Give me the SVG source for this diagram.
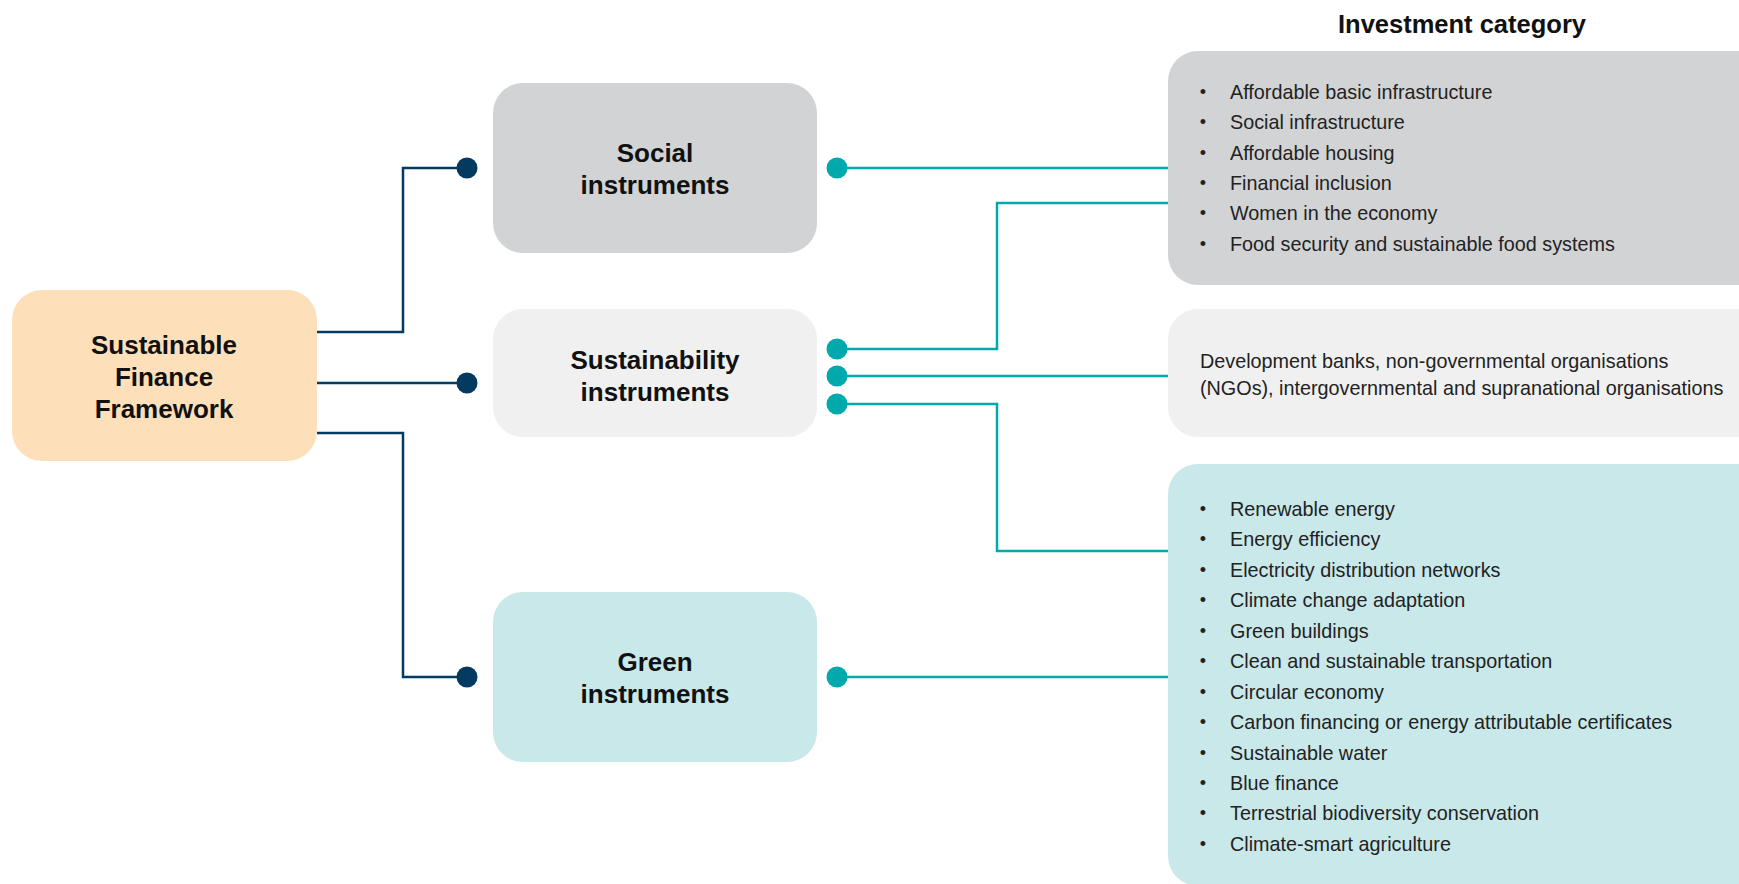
<svg xmlns="http://www.w3.org/2000/svg" width="1739" height="884" viewBox="0 0 1739 884">
<style>
.title{font-family:"Liberation Sans",Arial,sans-serif;font-weight:bold;font-size:26px;fill:#111;text-anchor:middle}
.head{font-family:"Liberation Sans",Arial,sans-serif;font-weight:bold;font-size:25.5px;fill:#111;text-anchor:middle}
.body{font-family:"Liberation Sans",Arial,sans-serif;font-size:19.8px;fill:#222}
.bul{font-family:"Liberation Sans",Arial,sans-serif;font-size:18px;fill:#222;text-anchor:middle}
.navy{fill:none;stroke:#033A5F;stroke-width:2.5}
.teal{fill:none;stroke:#00A9AC;stroke-width:2.5}
.dn{fill:#033A5F}
.dt{fill:#00A9AC}
</style>
<rect width="1739" height="884" fill="#ffffff"/>
<g id="connectors">
<path class="navy" d="M317 332 H403 V168 H467"/>
<path class="navy" d="M317 383 H467"/>
<path class="navy" d="M317 433 H403 V677 H467"/>
<circle class="dn" cx="467" cy="168" r="10.5"/>
<circle class="dn" cx="467" cy="383" r="10.5"/>
<circle class="dn" cx="467" cy="677" r="10.5"/>
<path class="teal" d="M837 168 H1168"/>
<path class="teal" d="M837 349 H997 V203 H1168"/>
<path class="teal" d="M837 376 H1168"/>
<path class="teal" d="M837 404 H997 V551 H1168"/>
<path class="teal" d="M837 677 H1168"/>
<circle class="dt" cx="837" cy="168" r="10.5"/>
<circle class="dt" cx="837" cy="349" r="10.5"/>
<circle class="dt" cx="837" cy="376" r="10.5"/>
<circle class="dt" cx="837" cy="404" r="10.5"/>
<circle class="dt" cx="837" cy="677" r="10.5"/>
</g>
<g id="framework">
<rect x="12" y="290" width="305" height="171" rx="30" fill="#FDDFB9"/>
<text class="title" x="164" y="354">Sustainable</text>
<text class="title" x="164" y="386">Finance</text>
<text class="title" x="164" y="418">Framework</text>
</g>
<g id="social">
<rect x="493" y="83" width="324" height="170" rx="30" fill="#D2D3D5"/>
<text class="title" x="655" y="162">Social</text>
<text class="title" x="655" y="194">instruments</text>
</g>
<g id="sustainability">
<rect x="493" y="309" width="324" height="128" rx="30" fill="#F0F0F0"/>
<text class="title" x="655" y="369">Sustainability</text>
<text class="title" x="655" y="401">instruments</text>
</g>
<g id="green">
<rect x="493" y="592" width="324" height="170" rx="30" fill="#C9E8EA"/>
<text class="title" x="655" y="671">Green</text>
<text class="title" x="655" y="703">instruments</text>
</g>
<g id="heading">
<text class="head" x="1462" y="33">Investment category</text>
</g>
<g id="social-categories">
<rect x="1168" y="51" width="600" height="234" rx="30" fill="#D2D3D5"/>
<text class="bul" x="1203" y="98">•</text><text class="body" x="1230" y="99">Affordable basic infrastructure</text>
<text class="bul" x="1203" y="128">•</text><text class="body" x="1230" y="129">Social infrastructure</text>
<text class="bul" x="1203" y="159">•</text><text class="body" x="1230" y="160">Affordable housing</text>
<text class="bul" x="1203" y="189">•</text><text class="body" x="1230" y="190">Financial inclusion</text>
<text class="bul" x="1203" y="219">•</text><text class="body" x="1230" y="220">Women in the economy</text>
<text class="bul" x="1203" y="250">•</text><text class="body" x="1230" y="251">Food security and sustainable food systems</text>
</g>
<g id="sustainability-categories">
<rect x="1168" y="309" width="600" height="128" rx="30" fill="#F0F0F0"/>
<text class="body" x="1200" y="368">Development banks, non-governmental organisations</text>
<text class="body" x="1200" y="395">(NGOs), intergovernmental and supranational organisations</text>
</g>
<g id="green-categories">
<rect x="1168" y="464" width="600" height="422" rx="30" fill="#C9E8EA"/>
<text class="bul" x="1203" y="515">•</text><text class="body" x="1230" y="516">Renewable energy</text>
<text class="bul" x="1203" y="545">•</text><text class="body" x="1230" y="546">Energy efficiency</text>
<text class="bul" x="1203" y="576">•</text><text class="body" x="1230" y="577">Electricity distribution networks</text>
<text class="bul" x="1203" y="606">•</text><text class="body" x="1230" y="607">Climate change adaptation</text>
<text class="bul" x="1203" y="637">•</text><text class="body" x="1230" y="638">Green buildings</text>
<text class="bul" x="1203" y="667">•</text><text class="body" x="1230" y="668">Clean and sustainable transportation</text>
<text class="bul" x="1203" y="698">•</text><text class="body" x="1230" y="699">Circular economy</text>
<text class="bul" x="1203" y="728">•</text><text class="body" x="1230" y="729">Carbon financing or energy attributable certificates</text>
<text class="bul" x="1203" y="759">•</text><text class="body" x="1230" y="760">Sustainable water</text>
<text class="bul" x="1203" y="789">•</text><text class="body" x="1230" y="790">Blue finance</text>
<text class="bul" x="1203" y="819">•</text><text class="body" x="1230" y="820">Terrestrial biodiversity conservation</text>
<text class="bul" x="1203" y="850">•</text><text class="body" x="1230" y="851">Climate-smart agriculture</text>
</g>
</svg>
